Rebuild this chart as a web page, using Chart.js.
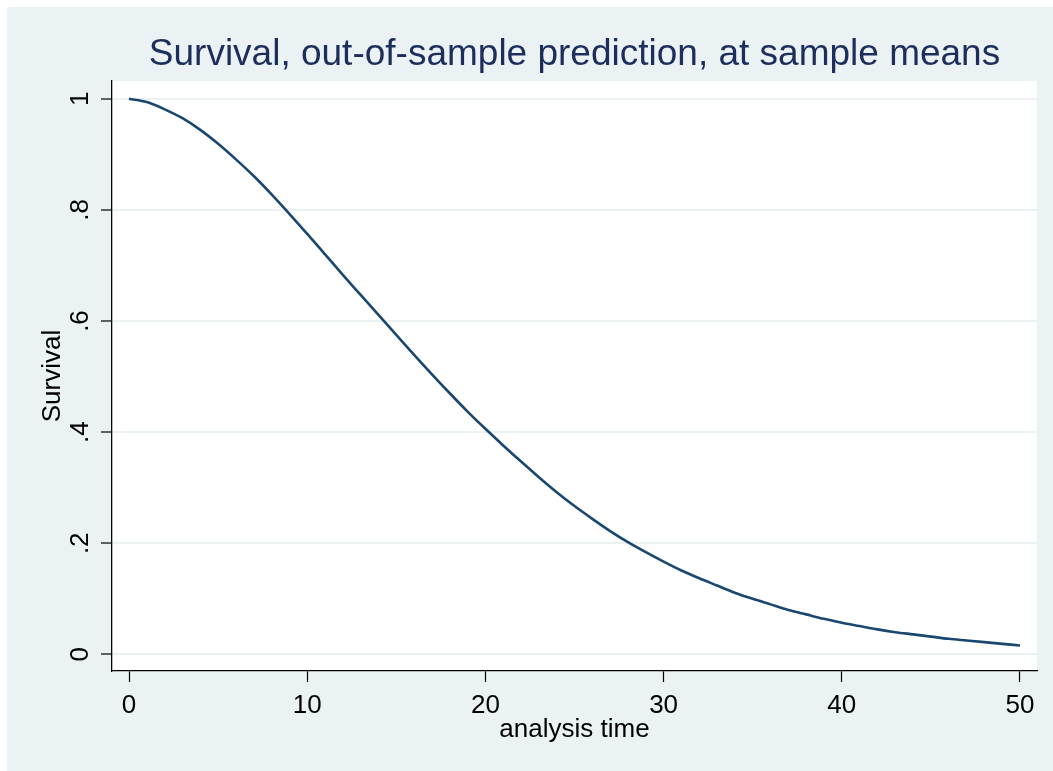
<!DOCTYPE html>
<html>
<head>
<meta charset="utf-8">
<script src="https://cdn.jsdelivr.net/npm/chart.js@4/dist/chart.umd.min.js"></script>
<style>
html,body{margin:0;padding:0;background:#ffffff;overflow:hidden}
#wrap{width:1053px;height:771px;position:relative}
</style>
</head>
<body>
<div id="wrap"><canvas id="c" width="1053" height="771"></canvas></div>
<script>
// ---- data ----
const analysisTime = [0,1,2,3,4,5,6,7,8,9,10,11,12,13,14,15,16,17,18,19,20,21,22,23,24,25,26,27,28,29,30,31,32,33,34,35,36,37,38,39,40,41,42,43,44,45,46,47,48,49,50];
const survival = [1.000,0.994,0.981,0.965,0.944,0.919,0.891,0.861,0.828,0.793,0.757,0.720,0.683,0.647,0.611,0.575,0.539,0.504,0.470,0.437,0.406,0.376,0.347,0.319,0.292,0.267,0.244,0.222,0.202,0.184,0.167,0.151,0.137,0.124,0.111,0.100,0.090,0.080,0.072,0.064,0.057,0.051,0.045,0.040,0.036,0.032,0.028,0.025,0.022,0.019,0.016];
const xTickValues = [0,10,20,30,40,50];
const xTickLabels = ['0','10','20','30','40','50'];
const yTickValues = [0,0.2,0.4,0.6,0.8,1];
const yTickLabels = ['0','.2','.4','.6','.8','1'];
const titleText = 'Survival, out-of-sample prediction, at sample means';
const xTitleText = 'analysis time';
const yTitleText = 'Survival';

// ---- styling ----
const FONT = '"Liberation Sans", Arial, Helvetica, sans-serif';
const OUTER_BG = '#EAF2F3';
const GRID = '#EAF2F3';
const LINE = '#1A476F';
const TITLE_COLOR = '#1E2E5C';

const backgroundPlugin = {
  id: 'stataBackground',
  beforeDraw(chart) {
    const ctx = chart.ctx;
    const a = chart.chartArea;
    ctx.save();
    ctx.fillStyle = '#ffffff';
    ctx.fillRect(0, 0, chart.width, chart.height);
    ctx.fillStyle = OUTER_BG;
    ctx.fillRect(7, 7, chart.width - 7, chart.height - 7);
    ctx.fillStyle = '#ffffff';
    ctx.fillRect(a.left, a.top, a.right - a.left, a.bottom - a.top);
    ctx.restore();
  }
};

// centre the title over the plot region rather than over the whole canvas
const titleCenterPlugin = {
  id: 'titleCenter',
  afterLayout(chart) {
    if (chart.titleBlock) {
      chart.titleBlock.left = chart.chartArea.left;
      chart.titleBlock.right = chart.chartArea.right;
    }
  }
};

const points = analysisTime.map((t, i) => ({x: t, y: survival[i]}));

new Chart(document.getElementById('c'), {
  type: 'line',
  data: {
    datasets: [{
      data: points,
      borderColor: LINE,
      borderWidth: 2.6,
      pointRadius: 0,
      fill: false,
      cubicInterpolationMode: 'monotone'
    }]
  },
  options: {
    responsive: false,
    animation: false,
    events: [],
    layout: {padding: {left: 0, right: 16, top: 0, bottom: 0}},
    plugins: {
      legend: {display: false},
      tooltip: {enabled: false},
      title: {
        display: true,
        text: titleText,
        color: TITLE_COLOR,
        font: {family: FONT, size: 37, weight: 'normal', lineHeight: 1.2},
        padding: {top: 32.2, bottom: 4.4}
      }
    },
    scales: {
      x: {
        type: 'linear',
        position: 'bottom',
        min: -0.954,
        max: 50.954,
        afterFit(scale) { scale.height = 100; },
        afterBuildTicks(scale) { scale.ticks = xTickValues.map(v => ({value: v})); },
        ticks: {
          autoSkip: false,
          maxRotation: 0,
          minRotation: 0,
          padding: 8,
          color: '#000000',
          font: {family: FONT, size: 26},
          callback: (v) => xTickLabels[xTickValues.indexOf(v)]
        },
        grid: {
          drawOnChartArea: false,
          drawTicks: true,
          tickLength: 11,
          tickColor: '#000000',
          tickWidth: 1.2
        },
        border: {display: true, color: '#000000', width: 1.3},
        title: {
          display: true,
          text: xTitleText,
          color: '#000000',
          font: {family: FONT, size: 26, lineHeight: 1.2},
          padding: {top: 0, bottom: 26}
        }
      },
      y: {
        type: 'linear',
        position: 'left',
        min: -0.0299,
        max: 1.032,
        afterFit(scale) { scale.width = 112; },
        afterBuildTicks(scale) { scale.ticks = yTickValues.map(v => ({value: v})); },
        ticks: {
          autoSkip: false,
          minRotation: 90,
          maxRotation: 90,
          crossAlign: 'center',
          padding: 9,
          color: '#000000',
          font: {family: FONT, size: 26},
          callback: (v) => yTickLabels[yTickValues.indexOf(v)]
        },
        grid: {
          color: GRID,
          lineWidth: 2,
          drawTicks: true,
          tickLength: 11,
          tickColor: '#000000',
          tickWidth: 1.2
        },
        border: {display: true, color: '#000000', width: 1.3},
        title: {
          display: true,
          text: yTitleText,
          color: '#000000',
          font: {family: FONT, size: 26, lineHeight: 1.2},
          padding: {top: 37, bottom: 0}
        }
      }
    }
  },
  plugins: [backgroundPlugin, titleCenterPlugin]
});
</script>
</body>
</html>
